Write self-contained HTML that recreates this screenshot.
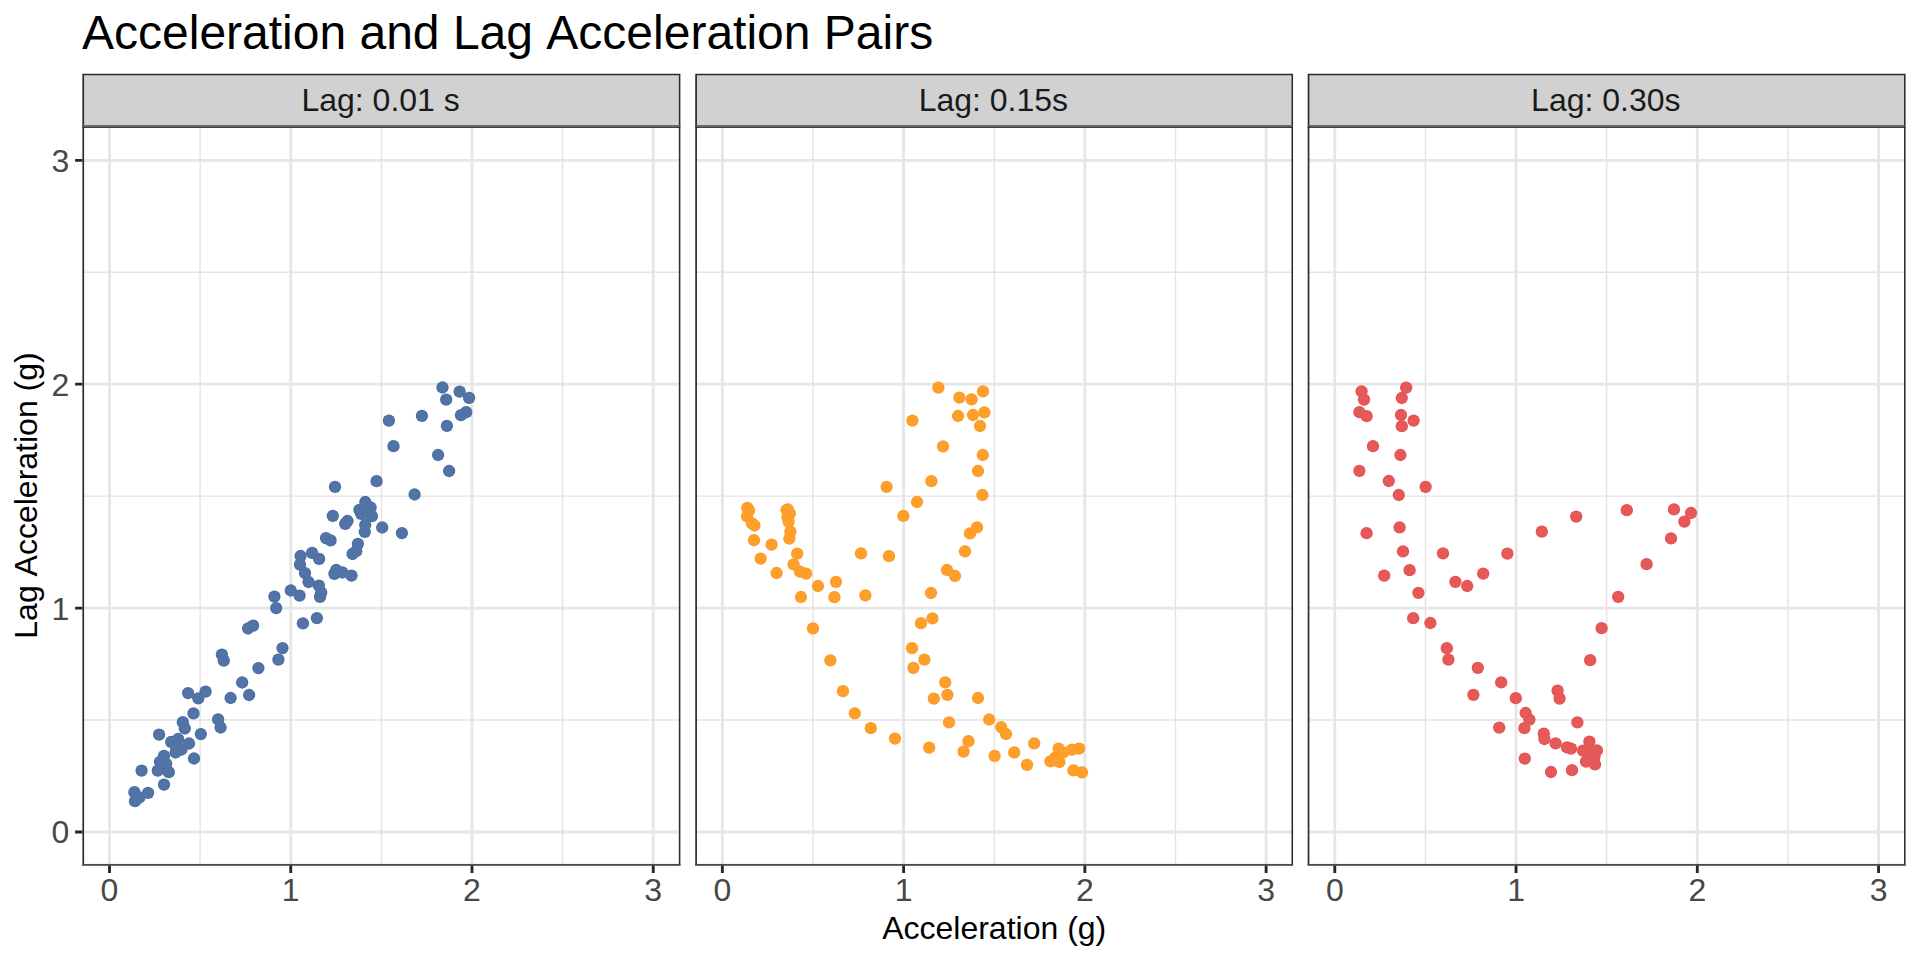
<!DOCTYPE html>
<html lang="en">
<head>
<meta charset="utf-8">
<title>Acceleration and Lag Acceleration Pairs</title>
<style>
html,body{margin:0;padding:0;background:#fff;}
body{width:1920px;height:960px;overflow:hidden;font-family:'Liberation Sans', Arial, Helvetica, sans-serif;}
svg{display:block;}
text{font-family:'Liberation Sans', Arial, Helvetica, sans-serif;font-kerning:none;}
.title{font-size:48px;fill:#000;}
.strip{font-size:32px;fill:#1a1a1a;text-anchor:middle;}
.atitle{font-size:32px;fill:#000;text-anchor:middle;}
.atext{font-size:32px;fill:#474747;}
.gmaj{stroke:#e6e6e6;stroke-width:2.84;fill:none;}
.gmin{stroke:#e4e4e4;stroke-width:1.42;fill:none;}
.tick{stroke:#262626;stroke-width:2.84;fill:none;}
</style>
</head>
<body>
<svg width="1920" height="960" viewBox="0 0 1920 960">
<rect x="0" y="0" width="1920" height="960" fill="#ffffff"/>
<text class="title" x="82" y="48.7">Acceleration and Lag Acceleration Pairs</text>

<defs><clipPath id="cp0"><rect x="82.40" y="126.55" width="597.85" height="739.05"/></clipPath><clipPath id="cs0"><rect x="82.40" y="73.70" width="597.85" height="52.85"/></clipPath></defs>
<g clip-path="url(#cs0)"><rect x="82.40" y="73.70" width="597.85" height="52.85" fill="#d1d1d1"/></g>
<path fill="#2c2c2c" d="M82.40 73.70H680.40V126.55h-1.55V75.25H84.10V126.55h-1.7z"/>
<text class="strip" x="380.62" y="111.3">Lag: 0.01 s</text>
<g clip-path="url(#cp0)">
<rect x="82.40" y="126.55" width="597.85" height="739.05" fill="#fff"/>
<path class="gmin" d="M200.12 126.55V865.60M82.40 720.05H680.25M381.38 126.55V865.60M82.40 496.15H680.25M562.62 126.55V865.60M82.40 272.25H680.25"/>
<path class="gmaj" d="M109.50 126.55V865.60M82.40 832.00H680.25M290.75 126.55V865.60M82.40 608.10H680.25M472.00 126.55V865.60M82.40 384.20H680.25M653.25 126.55V865.60M82.40 160.30H680.25"/>
<g fill="#4B6EA2">
<circle cx="249.1" cy="695.0" r="6.15"/>
<circle cx="230.6" cy="698.0" r="6.15"/>
<circle cx="205.6" cy="691.6" r="6.15"/>
<circle cx="188.1" cy="693.1" r="6.15"/>
<circle cx="198.3" cy="698.3" r="6.15"/>
<circle cx="193.5" cy="713.4" r="6.15"/>
<circle cx="218.1" cy="719.4" r="6.15"/>
<circle cx="220.6" cy="727.5" r="6.15"/>
<circle cx="182.8" cy="722.2" r="6.15"/>
<circle cx="184.8" cy="728.5" r="6.15"/>
<circle cx="200.8" cy="734.1" r="6.15"/>
<circle cx="159.1" cy="734.6" r="6.15"/>
<circle cx="178.1" cy="739.0" r="6.15"/>
<circle cx="171.2" cy="741.9" r="6.15"/>
<circle cx="189.0" cy="743.5" r="6.15"/>
<circle cx="181.5" cy="749.5" r="6.15"/>
<circle cx="175.6" cy="752.5" r="6.15"/>
<circle cx="175.0" cy="745.0" r="6.15"/>
<circle cx="194.0" cy="758.5" r="6.15"/>
<circle cx="164.0" cy="755.9" r="6.15"/>
<circle cx="160.0" cy="761.9" r="6.15"/>
<circle cx="166.2" cy="763.8" r="6.15"/>
<circle cx="157.8" cy="770.6" r="6.15"/>
<circle cx="168.8" cy="772.2" r="6.15"/>
<circle cx="141.6" cy="770.6" r="6.15"/>
<circle cx="164.0" cy="784.6" r="6.15"/>
<circle cx="134.4" cy="792.2" r="6.15"/>
<circle cx="148.1" cy="792.8" r="6.15"/>
<circle cx="135.0" cy="801.2" r="6.15"/>
<circle cx="139.4" cy="797.5" r="6.15"/>
<circle cx="242.2" cy="682.5" r="6.15"/>
<circle cx="258.4" cy="668.1" r="6.15"/>
<circle cx="278.4" cy="659.6" r="6.15"/>
<circle cx="282.5" cy="648.1" r="6.15"/>
<circle cx="221.9" cy="654.6" r="6.15"/>
<circle cx="223.8" cy="660.6" r="6.15"/>
<circle cx="248.1" cy="628.5" r="6.15"/>
<circle cx="253.1" cy="625.6" r="6.15"/>
<circle cx="276.2" cy="608.1" r="6.15"/>
<circle cx="274.4" cy="596.6" r="6.15"/>
<circle cx="302.9" cy="623.4" r="6.15"/>
<circle cx="316.9" cy="618.1" r="6.15"/>
<circle cx="290.8" cy="590.5" r="6.15"/>
<circle cx="299.6" cy="595.6" r="6.15"/>
<circle cx="320.0" cy="596.9" r="6.15"/>
<circle cx="321.2" cy="592.5" r="6.15"/>
<circle cx="318.9" cy="585.6" r="6.15"/>
<circle cx="308.5" cy="582.0" r="6.15"/>
<circle cx="365.3" cy="502.0" r="6.15"/>
<circle cx="370.6" cy="507.5" r="6.15"/>
<circle cx="359.4" cy="509.8" r="6.15"/>
<circle cx="361.2" cy="513.8" r="6.15"/>
<circle cx="366.2" cy="511.9" r="6.15"/>
<circle cx="371.9" cy="516.2" r="6.15"/>
<circle cx="332.8" cy="515.9" r="6.15"/>
<circle cx="347.5" cy="521.0" r="6.15"/>
<circle cx="345.2" cy="523.8" r="6.15"/>
<circle cx="365.2" cy="525.0" r="6.15"/>
<circle cx="364.8" cy="531.9" r="6.15"/>
<circle cx="382.2" cy="527.5" r="6.15"/>
<circle cx="401.9" cy="533.1" r="6.15"/>
<circle cx="326.0" cy="538.1" r="6.15"/>
<circle cx="330.6" cy="540.4" r="6.15"/>
<circle cx="357.9" cy="543.8" r="6.15"/>
<circle cx="356.2" cy="551.2" r="6.15"/>
<circle cx="352.5" cy="554.0" r="6.15"/>
<circle cx="312.1" cy="552.9" r="6.15"/>
<circle cx="300.6" cy="556.0" r="6.15"/>
<circle cx="319.1" cy="558.8" r="6.15"/>
<circle cx="300.0" cy="564.6" r="6.15"/>
<circle cx="305.0" cy="573.1" r="6.15"/>
<circle cx="336.2" cy="570.0" r="6.15"/>
<circle cx="334.4" cy="573.8" r="6.15"/>
<circle cx="342.5" cy="572.5" r="6.15"/>
<circle cx="351.5" cy="575.6" r="6.15"/>
<circle cx="442.5" cy="387.5" r="6.15"/>
<circle cx="459.6" cy="391.6" r="6.15"/>
<circle cx="469.1" cy="397.8" r="6.15"/>
<circle cx="446.2" cy="399.6" r="6.15"/>
<circle cx="466.2" cy="412.2" r="6.15"/>
<circle cx="461.0" cy="415.2" r="6.15"/>
<circle cx="421.9" cy="415.9" r="6.15"/>
<circle cx="388.9" cy="420.6" r="6.15"/>
<circle cx="446.9" cy="425.9" r="6.15"/>
<circle cx="393.5" cy="446.2" r="6.15"/>
<circle cx="438.1" cy="455.0" r="6.15"/>
<circle cx="449.1" cy="471.0" r="6.15"/>
<circle cx="376.6" cy="481.2" r="6.15"/>
<circle cx="335.0" cy="486.9" r="6.15"/>
<circle cx="414.6" cy="494.5" r="6.15"/>
</g>
<g fill="#5273A5">
<circle cx="249.1" cy="695.0" r="5.2"/>
<circle cx="230.6" cy="698.0" r="5.2"/>
<circle cx="205.6" cy="691.6" r="5.2"/>
<circle cx="188.1" cy="693.1" r="5.2"/>
<circle cx="198.3" cy="698.3" r="5.2"/>
<circle cx="193.5" cy="713.4" r="5.2"/>
<circle cx="218.1" cy="719.4" r="5.2"/>
<circle cx="220.6" cy="727.5" r="5.2"/>
<circle cx="182.8" cy="722.2" r="5.2"/>
<circle cx="184.8" cy="728.5" r="5.2"/>
<circle cx="200.8" cy="734.1" r="5.2"/>
<circle cx="159.1" cy="734.6" r="5.2"/>
<circle cx="178.1" cy="739.0" r="5.2"/>
<circle cx="171.2" cy="741.9" r="5.2"/>
<circle cx="189.0" cy="743.5" r="5.2"/>
<circle cx="181.5" cy="749.5" r="5.2"/>
<circle cx="175.6" cy="752.5" r="5.2"/>
<circle cx="175.0" cy="745.0" r="5.2"/>
<circle cx="194.0" cy="758.5" r="5.2"/>
<circle cx="164.0" cy="755.9" r="5.2"/>
<circle cx="160.0" cy="761.9" r="5.2"/>
<circle cx="166.2" cy="763.8" r="5.2"/>
<circle cx="157.8" cy="770.6" r="5.2"/>
<circle cx="168.8" cy="772.2" r="5.2"/>
<circle cx="141.6" cy="770.6" r="5.2"/>
<circle cx="164.0" cy="784.6" r="5.2"/>
<circle cx="134.4" cy="792.2" r="5.2"/>
<circle cx="148.1" cy="792.8" r="5.2"/>
<circle cx="135.0" cy="801.2" r="5.2"/>
<circle cx="139.4" cy="797.5" r="5.2"/>
<circle cx="242.2" cy="682.5" r="5.2"/>
<circle cx="258.4" cy="668.1" r="5.2"/>
<circle cx="278.4" cy="659.6" r="5.2"/>
<circle cx="282.5" cy="648.1" r="5.2"/>
<circle cx="221.9" cy="654.6" r="5.2"/>
<circle cx="223.8" cy="660.6" r="5.2"/>
<circle cx="248.1" cy="628.5" r="5.2"/>
<circle cx="253.1" cy="625.6" r="5.2"/>
<circle cx="276.2" cy="608.1" r="5.2"/>
<circle cx="274.4" cy="596.6" r="5.2"/>
<circle cx="302.9" cy="623.4" r="5.2"/>
<circle cx="316.9" cy="618.1" r="5.2"/>
<circle cx="290.8" cy="590.5" r="5.2"/>
<circle cx="299.6" cy="595.6" r="5.2"/>
<circle cx="320.0" cy="596.9" r="5.2"/>
<circle cx="321.2" cy="592.5" r="5.2"/>
<circle cx="318.9" cy="585.6" r="5.2"/>
<circle cx="308.5" cy="582.0" r="5.2"/>
<circle cx="365.3" cy="502.0" r="5.2"/>
<circle cx="370.6" cy="507.5" r="5.2"/>
<circle cx="359.4" cy="509.8" r="5.2"/>
<circle cx="361.2" cy="513.8" r="5.2"/>
<circle cx="366.2" cy="511.9" r="5.2"/>
<circle cx="371.9" cy="516.2" r="5.2"/>
<circle cx="332.8" cy="515.9" r="5.2"/>
<circle cx="347.5" cy="521.0" r="5.2"/>
<circle cx="345.2" cy="523.8" r="5.2"/>
<circle cx="365.2" cy="525.0" r="5.2"/>
<circle cx="364.8" cy="531.9" r="5.2"/>
<circle cx="382.2" cy="527.5" r="5.2"/>
<circle cx="401.9" cy="533.1" r="5.2"/>
<circle cx="326.0" cy="538.1" r="5.2"/>
<circle cx="330.6" cy="540.4" r="5.2"/>
<circle cx="357.9" cy="543.8" r="5.2"/>
<circle cx="356.2" cy="551.2" r="5.2"/>
<circle cx="352.5" cy="554.0" r="5.2"/>
<circle cx="312.1" cy="552.9" r="5.2"/>
<circle cx="300.6" cy="556.0" r="5.2"/>
<circle cx="319.1" cy="558.8" r="5.2"/>
<circle cx="300.0" cy="564.6" r="5.2"/>
<circle cx="305.0" cy="573.1" r="5.2"/>
<circle cx="336.2" cy="570.0" r="5.2"/>
<circle cx="334.4" cy="573.8" r="5.2"/>
<circle cx="342.5" cy="572.5" r="5.2"/>
<circle cx="351.5" cy="575.6" r="5.2"/>
<circle cx="442.5" cy="387.5" r="5.2"/>
<circle cx="459.6" cy="391.6" r="5.2"/>
<circle cx="469.1" cy="397.8" r="5.2"/>
<circle cx="446.2" cy="399.6" r="5.2"/>
<circle cx="466.2" cy="412.2" r="5.2"/>
<circle cx="461.0" cy="415.2" r="5.2"/>
<circle cx="421.9" cy="415.9" r="5.2"/>
<circle cx="388.9" cy="420.6" r="5.2"/>
<circle cx="446.9" cy="425.9" r="5.2"/>
<circle cx="393.5" cy="446.2" r="5.2"/>
<circle cx="438.1" cy="455.0" r="5.2"/>
<circle cx="449.1" cy="471.0" r="5.2"/>
<circle cx="376.6" cy="481.2" r="5.2"/>
<circle cx="335.0" cy="486.9" r="5.2"/>
<circle cx="414.6" cy="494.5" r="5.2"/>
</g>
</g>
<path fill="#2c2c2c" d="M82.40 126.55h1.7V865.60h-1.7zM680.40 126.55h-1.55V865.60h1.55z"/>
<rect x="82.40" y="863.95" width="598.00" height="1.85" fill="#4b4b4b"/>
<rect x="82.40" y="125.15" width="597.85" height="1.6" fill="#595959"/><rect x="82.40" y="126.7" width="597.85" height="1.15" fill="#222"/>
<text class="atext" text-anchor="middle" x="109.50" y="901.3">0</text>
<text class="atext" text-anchor="middle" x="290.75" y="901.3">1</text>
<text class="atext" text-anchor="middle" x="472.00" y="901.3">2</text>
<text class="atext" text-anchor="middle" x="653.25" y="901.3">3</text>
<path class="tick" d="M109.50 865.60v7.3M290.75 865.60v7.3M472.00 865.60v7.3M653.25 865.60v7.3"/>
<defs><clipPath id="cp1"><rect x="695.25" y="126.55" width="597.65" height="739.05"/></clipPath><clipPath id="cs1"><rect x="695.25" y="73.70" width="597.65" height="52.85"/></clipPath></defs>
<g clip-path="url(#cs1)"><rect x="695.25" y="73.70" width="597.65" height="52.85" fill="#d1d1d1"/></g>
<path fill="#2c2c2c" d="M695.25 73.70H1293.05V126.55h-1.55V75.25H696.95V126.55h-1.7z"/>
<text class="strip" x="993.38" y="111.3">Lag: 0.15s</text>
<g clip-path="url(#cp1)">
<rect x="695.25" y="126.55" width="597.65" height="739.05" fill="#fff"/>
<path class="gmin" d="M812.98 126.55V865.60M695.25 720.05H1292.90M994.23 126.55V865.60M695.25 496.15H1292.90M1175.47 126.55V865.60M695.25 272.25H1292.90"/>
<path class="gmaj" d="M722.35 126.55V865.60M695.25 832.00H1292.90M903.60 126.55V865.60M695.25 608.10H1292.90M1084.85 126.55V865.60M695.25 384.20H1292.90M1266.10 126.55V865.60M695.25 160.30H1292.90"/>
<g fill="#FD9B26">
<circle cx="938.4" cy="387.6" r="6.15"/>
<circle cx="983.0" cy="391.4" r="6.15"/>
<circle cx="959.4" cy="397.6" r="6.15"/>
<circle cx="971.6" cy="399.4" r="6.15"/>
<circle cx="984.4" cy="412.4" r="6.15"/>
<circle cx="973.0" cy="415.0" r="6.15"/>
<circle cx="958.0" cy="416.0" r="6.15"/>
<circle cx="912.4" cy="420.6" r="6.15"/>
<circle cx="980.0" cy="426.0" r="6.15"/>
<circle cx="943.0" cy="446.4" r="6.15"/>
<circle cx="982.8" cy="455.0" r="6.15"/>
<circle cx="978.0" cy="471.0" r="6.15"/>
<circle cx="931.4" cy="481.2" r="6.15"/>
<circle cx="886.6" cy="486.8" r="6.15"/>
<circle cx="982.4" cy="495.0" r="6.15"/>
<circle cx="917.0" cy="502.0" r="6.15"/>
<circle cx="903.4" cy="515.8" r="6.15"/>
<circle cx="977.0" cy="527.4" r="6.15"/>
<circle cx="970.0" cy="533.4" r="6.15"/>
<circle cx="965.0" cy="551.4" r="6.15"/>
<circle cx="889.0" cy="556.2" r="6.15"/>
<circle cx="861.0" cy="553.4" r="6.15"/>
<circle cx="747.3" cy="507.9" r="6.15"/>
<circle cx="749.0" cy="510.7" r="6.15"/>
<circle cx="747.1" cy="516.4" r="6.15"/>
<circle cx="752.0" cy="523.4" r="6.15"/>
<circle cx="754.4" cy="525.4" r="6.15"/>
<circle cx="754.0" cy="540.2" r="6.15"/>
<circle cx="771.6" cy="544.6" r="6.15"/>
<circle cx="760.6" cy="558.7" r="6.15"/>
<circle cx="787.9" cy="509.5" r="6.15"/>
<circle cx="786.5" cy="510.0" r="6.15"/>
<circle cx="789.8" cy="513.4" r="6.15"/>
<circle cx="787.4" cy="517.0" r="6.15"/>
<circle cx="788.6" cy="521.6" r="6.15"/>
<circle cx="790.4" cy="531.6" r="6.15"/>
<circle cx="789.4" cy="538.6" r="6.15"/>
<circle cx="797.2" cy="553.6" r="6.15"/>
<circle cx="793.6" cy="564.4" r="6.15"/>
<circle cx="800.0" cy="571.6" r="6.15"/>
<circle cx="806.0" cy="573.6" r="6.15"/>
<circle cx="776.6" cy="573.0" r="6.15"/>
<circle cx="947.0" cy="570.0" r="6.15"/>
<circle cx="955.0" cy="576.0" r="6.15"/>
<circle cx="836.0" cy="581.8" r="6.15"/>
<circle cx="818.0" cy="586.0" r="6.15"/>
<circle cx="931.0" cy="593.0" r="6.15"/>
<circle cx="865.4" cy="595.4" r="6.15"/>
<circle cx="834.4" cy="597.2" r="6.15"/>
<circle cx="801.0" cy="597.0" r="6.15"/>
<circle cx="932.4" cy="618.4" r="6.15"/>
<circle cx="921.0" cy="623.2" r="6.15"/>
<circle cx="813.0" cy="628.4" r="6.15"/>
<circle cx="912.0" cy="648.2" r="6.15"/>
<circle cx="924.4" cy="659.6" r="6.15"/>
<circle cx="913.4" cy="667.8" r="6.15"/>
<circle cx="830.4" cy="660.4" r="6.15"/>
<circle cx="945.2" cy="682.4" r="6.15"/>
<circle cx="843.0" cy="691.2" r="6.15"/>
<circle cx="947.4" cy="694.8" r="6.15"/>
<circle cx="933.8" cy="698.6" r="6.15"/>
<circle cx="978.0" cy="698.0" r="6.15"/>
<circle cx="854.8" cy="713.4" r="6.15"/>
<circle cx="949.0" cy="722.4" r="6.15"/>
<circle cx="989.2" cy="719.5" r="6.15"/>
<circle cx="1001.2" cy="727.1" r="6.15"/>
<circle cx="1006.0" cy="734.0" r="6.15"/>
<circle cx="870.8" cy="728.2" r="6.15"/>
<circle cx="895.0" cy="738.6" r="6.15"/>
<circle cx="968.5" cy="741.2" r="6.15"/>
<circle cx="929.2" cy="747.6" r="6.15"/>
<circle cx="963.6" cy="751.6" r="6.15"/>
<circle cx="994.6" cy="755.8" r="6.15"/>
<circle cx="1014.2" cy="752.4" r="6.15"/>
<circle cx="1034.2" cy="743.4" r="6.15"/>
<circle cx="1027.0" cy="764.8" r="6.15"/>
<circle cx="1058.6" cy="748.6" r="6.15"/>
<circle cx="1063.3" cy="752.4" r="6.15"/>
<circle cx="1072.0" cy="749.6" r="6.15"/>
<circle cx="1079.0" cy="748.6" r="6.15"/>
<circle cx="1050.4" cy="761.4" r="6.15"/>
<circle cx="1055.3" cy="757.6" r="6.15"/>
<circle cx="1059.4" cy="762.0" r="6.15"/>
<circle cx="1073.4" cy="770.4" r="6.15"/>
<circle cx="1082.0" cy="772.4" r="6.15"/>
</g>
<g fill="#FE9F2C">
<circle cx="938.4" cy="387.6" r="5.2"/>
<circle cx="983.0" cy="391.4" r="5.2"/>
<circle cx="959.4" cy="397.6" r="5.2"/>
<circle cx="971.6" cy="399.4" r="5.2"/>
<circle cx="984.4" cy="412.4" r="5.2"/>
<circle cx="973.0" cy="415.0" r="5.2"/>
<circle cx="958.0" cy="416.0" r="5.2"/>
<circle cx="912.4" cy="420.6" r="5.2"/>
<circle cx="980.0" cy="426.0" r="5.2"/>
<circle cx="943.0" cy="446.4" r="5.2"/>
<circle cx="982.8" cy="455.0" r="5.2"/>
<circle cx="978.0" cy="471.0" r="5.2"/>
<circle cx="931.4" cy="481.2" r="5.2"/>
<circle cx="886.6" cy="486.8" r="5.2"/>
<circle cx="982.4" cy="495.0" r="5.2"/>
<circle cx="917.0" cy="502.0" r="5.2"/>
<circle cx="903.4" cy="515.8" r="5.2"/>
<circle cx="977.0" cy="527.4" r="5.2"/>
<circle cx="970.0" cy="533.4" r="5.2"/>
<circle cx="965.0" cy="551.4" r="5.2"/>
<circle cx="889.0" cy="556.2" r="5.2"/>
<circle cx="861.0" cy="553.4" r="5.2"/>
<circle cx="747.3" cy="507.9" r="5.2"/>
<circle cx="749.0" cy="510.7" r="5.2"/>
<circle cx="747.1" cy="516.4" r="5.2"/>
<circle cx="752.0" cy="523.4" r="5.2"/>
<circle cx="754.4" cy="525.4" r="5.2"/>
<circle cx="754.0" cy="540.2" r="5.2"/>
<circle cx="771.6" cy="544.6" r="5.2"/>
<circle cx="760.6" cy="558.7" r="5.2"/>
<circle cx="787.9" cy="509.5" r="5.2"/>
<circle cx="786.5" cy="510.0" r="5.2"/>
<circle cx="789.8" cy="513.4" r="5.2"/>
<circle cx="787.4" cy="517.0" r="5.2"/>
<circle cx="788.6" cy="521.6" r="5.2"/>
<circle cx="790.4" cy="531.6" r="5.2"/>
<circle cx="789.4" cy="538.6" r="5.2"/>
<circle cx="797.2" cy="553.6" r="5.2"/>
<circle cx="793.6" cy="564.4" r="5.2"/>
<circle cx="800.0" cy="571.6" r="5.2"/>
<circle cx="806.0" cy="573.6" r="5.2"/>
<circle cx="776.6" cy="573.0" r="5.2"/>
<circle cx="947.0" cy="570.0" r="5.2"/>
<circle cx="955.0" cy="576.0" r="5.2"/>
<circle cx="836.0" cy="581.8" r="5.2"/>
<circle cx="818.0" cy="586.0" r="5.2"/>
<circle cx="931.0" cy="593.0" r="5.2"/>
<circle cx="865.4" cy="595.4" r="5.2"/>
<circle cx="834.4" cy="597.2" r="5.2"/>
<circle cx="801.0" cy="597.0" r="5.2"/>
<circle cx="932.4" cy="618.4" r="5.2"/>
<circle cx="921.0" cy="623.2" r="5.2"/>
<circle cx="813.0" cy="628.4" r="5.2"/>
<circle cx="912.0" cy="648.2" r="5.2"/>
<circle cx="924.4" cy="659.6" r="5.2"/>
<circle cx="913.4" cy="667.8" r="5.2"/>
<circle cx="830.4" cy="660.4" r="5.2"/>
<circle cx="945.2" cy="682.4" r="5.2"/>
<circle cx="843.0" cy="691.2" r="5.2"/>
<circle cx="947.4" cy="694.8" r="5.2"/>
<circle cx="933.8" cy="698.6" r="5.2"/>
<circle cx="978.0" cy="698.0" r="5.2"/>
<circle cx="854.8" cy="713.4" r="5.2"/>
<circle cx="949.0" cy="722.4" r="5.2"/>
<circle cx="989.2" cy="719.5" r="5.2"/>
<circle cx="1001.2" cy="727.1" r="5.2"/>
<circle cx="1006.0" cy="734.0" r="5.2"/>
<circle cx="870.8" cy="728.2" r="5.2"/>
<circle cx="895.0" cy="738.6" r="5.2"/>
<circle cx="968.5" cy="741.2" r="5.2"/>
<circle cx="929.2" cy="747.6" r="5.2"/>
<circle cx="963.6" cy="751.6" r="5.2"/>
<circle cx="994.6" cy="755.8" r="5.2"/>
<circle cx="1014.2" cy="752.4" r="5.2"/>
<circle cx="1034.2" cy="743.4" r="5.2"/>
<circle cx="1027.0" cy="764.8" r="5.2"/>
<circle cx="1058.6" cy="748.6" r="5.2"/>
<circle cx="1063.3" cy="752.4" r="5.2"/>
<circle cx="1072.0" cy="749.6" r="5.2"/>
<circle cx="1079.0" cy="748.6" r="5.2"/>
<circle cx="1050.4" cy="761.4" r="5.2"/>
<circle cx="1055.3" cy="757.6" r="5.2"/>
<circle cx="1059.4" cy="762.0" r="5.2"/>
<circle cx="1073.4" cy="770.4" r="5.2"/>
<circle cx="1082.0" cy="772.4" r="5.2"/>
</g>
</g>
<path fill="#2c2c2c" d="M695.25 126.55h1.7V865.60h-1.7zM1293.05 126.55h-1.55V865.60h1.55z"/>
<rect x="695.25" y="863.95" width="597.80" height="1.85" fill="#4b4b4b"/>
<rect x="695.25" y="125.15" width="597.65" height="1.6" fill="#595959"/><rect x="695.25" y="126.7" width="597.65" height="1.15" fill="#222"/>
<text class="atext" text-anchor="middle" x="722.35" y="901.3">0</text>
<text class="atext" text-anchor="middle" x="903.60" y="901.3">1</text>
<text class="atext" text-anchor="middle" x="1084.85" y="901.3">2</text>
<text class="atext" text-anchor="middle" x="1266.10" y="901.3">3</text>
<path class="tick" d="M722.35 865.60v7.3M903.60 865.60v7.3M1084.85 865.60v7.3M1266.10 865.60v7.3"/>
<defs><clipPath id="cp2"><rect x="1307.70" y="126.55" width="597.70" height="739.05"/></clipPath><clipPath id="cs2"><rect x="1307.70" y="73.70" width="597.70" height="52.85"/></clipPath></defs>
<g clip-path="url(#cs2)"><rect x="1307.70" y="73.70" width="597.70" height="52.85" fill="#d1d1d1"/></g>
<path fill="#2c2c2c" d="M1307.70 73.70H1905.55V126.55h-1.55V75.25H1309.40V126.55h-1.7z"/>
<text class="strip" x="1605.85" y="111.3">Lag: 0.30s</text>
<g clip-path="url(#cp2)">
<rect x="1307.70" y="126.55" width="597.70" height="739.05" fill="#fff"/>
<path class="gmin" d="M1425.42 126.55V865.60M1307.70 720.05H1905.40M1606.67 126.55V865.60M1307.70 496.15H1905.40M1787.92 126.55V865.60M1307.70 272.25H1905.40"/>
<path class="gmaj" d="M1334.80 126.55V865.60M1307.70 832.00H1905.40M1516.05 126.55V865.60M1307.70 608.10H1905.40M1697.30 126.55V865.60M1307.70 384.20H1905.40M1878.55 126.55V865.60M1307.70 160.30H1905.40"/>
<g fill="#E55253">
<circle cx="1406.2" cy="387.6" r="6.15"/>
<circle cx="1361.6" cy="391.4" r="6.15"/>
<circle cx="1364.0" cy="399.6" r="6.15"/>
<circle cx="1401.8" cy="398.0" r="6.15"/>
<circle cx="1359.4" cy="412.2" r="6.15"/>
<circle cx="1366.6" cy="416.2" r="6.15"/>
<circle cx="1401.0" cy="415.0" r="6.15"/>
<circle cx="1413.6" cy="420.6" r="6.15"/>
<circle cx="1401.8" cy="426.2" r="6.15"/>
<circle cx="1373.0" cy="446.2" r="6.15"/>
<circle cx="1400.4" cy="455.0" r="6.15"/>
<circle cx="1359.4" cy="470.8" r="6.15"/>
<circle cx="1388.8" cy="481.0" r="6.15"/>
<circle cx="1425.6" cy="486.8" r="6.15"/>
<circle cx="1398.8" cy="495.0" r="6.15"/>
<circle cx="1626.8" cy="510.2" r="6.15"/>
<circle cx="1674.0" cy="509.4" r="6.15"/>
<circle cx="1691.0" cy="513.0" r="6.15"/>
<circle cx="1684.4" cy="521.6" r="6.15"/>
<circle cx="1576.2" cy="516.6" r="6.15"/>
<circle cx="1541.8" cy="531.6" r="6.15"/>
<circle cx="1671.0" cy="538.4" r="6.15"/>
<circle cx="1399.6" cy="527.4" r="6.15"/>
<circle cx="1366.6" cy="533.2" r="6.15"/>
<circle cx="1403.0" cy="551.4" r="6.15"/>
<circle cx="1443.0" cy="553.3" r="6.15"/>
<circle cx="1507.4" cy="553.6" r="6.15"/>
<circle cx="1646.6" cy="564.2" r="6.15"/>
<circle cx="1409.6" cy="570.2" r="6.15"/>
<circle cx="1384.2" cy="575.6" r="6.15"/>
<circle cx="1483.2" cy="573.6" r="6.15"/>
<circle cx="1455.4" cy="581.8" r="6.15"/>
<circle cx="1467.2" cy="586.0" r="6.15"/>
<circle cx="1418.4" cy="592.8" r="6.15"/>
<circle cx="1618.2" cy="596.8" r="6.15"/>
<circle cx="1413.2" cy="618.2" r="6.15"/>
<circle cx="1430.4" cy="623.0" r="6.15"/>
<circle cx="1601.6" cy="628.2" r="6.15"/>
<circle cx="1446.8" cy="648.2" r="6.15"/>
<circle cx="1448.4" cy="659.6" r="6.15"/>
<circle cx="1590.2" cy="660.2" r="6.15"/>
<circle cx="1477.8" cy="667.8" r="6.15"/>
<circle cx="1501.2" cy="682.4" r="6.15"/>
<circle cx="1473.4" cy="694.8" r="6.15"/>
<circle cx="1515.8" cy="698.2" r="6.15"/>
<circle cx="1557.6" cy="690.6" r="6.15"/>
<circle cx="1559.6" cy="698.6" r="6.15"/>
<circle cx="1525.6" cy="713.0" r="6.15"/>
<circle cx="1529.4" cy="719.6" r="6.15"/>
<circle cx="1577.4" cy="722.4" r="6.15"/>
<circle cx="1499.2" cy="727.6" r="6.15"/>
<circle cx="1524.4" cy="728.2" r="6.15"/>
<circle cx="1543.8" cy="733.7" r="6.15"/>
<circle cx="1544.4" cy="739.0" r="6.15"/>
<circle cx="1555.6" cy="743.4" r="6.15"/>
<circle cx="1567.0" cy="747.4" r="6.15"/>
<circle cx="1571.0" cy="748.6" r="6.15"/>
<circle cx="1589.4" cy="741.6" r="6.15"/>
<circle cx="1583.0" cy="750.6" r="6.15"/>
<circle cx="1589.0" cy="749.6" r="6.15"/>
<circle cx="1597.0" cy="750.3" r="6.15"/>
<circle cx="1594.5" cy="756.3" r="6.15"/>
<circle cx="1586.0" cy="761.6" r="6.15"/>
<circle cx="1595.0" cy="764.4" r="6.15"/>
<circle cx="1591.0" cy="758.0" r="6.15"/>
<circle cx="1524.8" cy="758.6" r="6.15"/>
<circle cx="1551.0" cy="772.0" r="6.15"/>
<circle cx="1572.0" cy="770.2" r="6.15"/>
</g>
<g fill="#E65959">
<circle cx="1406.2" cy="387.6" r="5.2"/>
<circle cx="1361.6" cy="391.4" r="5.2"/>
<circle cx="1364.0" cy="399.6" r="5.2"/>
<circle cx="1401.8" cy="398.0" r="5.2"/>
<circle cx="1359.4" cy="412.2" r="5.2"/>
<circle cx="1366.6" cy="416.2" r="5.2"/>
<circle cx="1401.0" cy="415.0" r="5.2"/>
<circle cx="1413.6" cy="420.6" r="5.2"/>
<circle cx="1401.8" cy="426.2" r="5.2"/>
<circle cx="1373.0" cy="446.2" r="5.2"/>
<circle cx="1400.4" cy="455.0" r="5.2"/>
<circle cx="1359.4" cy="470.8" r="5.2"/>
<circle cx="1388.8" cy="481.0" r="5.2"/>
<circle cx="1425.6" cy="486.8" r="5.2"/>
<circle cx="1398.8" cy="495.0" r="5.2"/>
<circle cx="1626.8" cy="510.2" r="5.2"/>
<circle cx="1674.0" cy="509.4" r="5.2"/>
<circle cx="1691.0" cy="513.0" r="5.2"/>
<circle cx="1684.4" cy="521.6" r="5.2"/>
<circle cx="1576.2" cy="516.6" r="5.2"/>
<circle cx="1541.8" cy="531.6" r="5.2"/>
<circle cx="1671.0" cy="538.4" r="5.2"/>
<circle cx="1399.6" cy="527.4" r="5.2"/>
<circle cx="1366.6" cy="533.2" r="5.2"/>
<circle cx="1403.0" cy="551.4" r="5.2"/>
<circle cx="1443.0" cy="553.3" r="5.2"/>
<circle cx="1507.4" cy="553.6" r="5.2"/>
<circle cx="1646.6" cy="564.2" r="5.2"/>
<circle cx="1409.6" cy="570.2" r="5.2"/>
<circle cx="1384.2" cy="575.6" r="5.2"/>
<circle cx="1483.2" cy="573.6" r="5.2"/>
<circle cx="1455.4" cy="581.8" r="5.2"/>
<circle cx="1467.2" cy="586.0" r="5.2"/>
<circle cx="1418.4" cy="592.8" r="5.2"/>
<circle cx="1618.2" cy="596.8" r="5.2"/>
<circle cx="1413.2" cy="618.2" r="5.2"/>
<circle cx="1430.4" cy="623.0" r="5.2"/>
<circle cx="1601.6" cy="628.2" r="5.2"/>
<circle cx="1446.8" cy="648.2" r="5.2"/>
<circle cx="1448.4" cy="659.6" r="5.2"/>
<circle cx="1590.2" cy="660.2" r="5.2"/>
<circle cx="1477.8" cy="667.8" r="5.2"/>
<circle cx="1501.2" cy="682.4" r="5.2"/>
<circle cx="1473.4" cy="694.8" r="5.2"/>
<circle cx="1515.8" cy="698.2" r="5.2"/>
<circle cx="1557.6" cy="690.6" r="5.2"/>
<circle cx="1559.6" cy="698.6" r="5.2"/>
<circle cx="1525.6" cy="713.0" r="5.2"/>
<circle cx="1529.4" cy="719.6" r="5.2"/>
<circle cx="1577.4" cy="722.4" r="5.2"/>
<circle cx="1499.2" cy="727.6" r="5.2"/>
<circle cx="1524.4" cy="728.2" r="5.2"/>
<circle cx="1543.8" cy="733.7" r="5.2"/>
<circle cx="1544.4" cy="739.0" r="5.2"/>
<circle cx="1555.6" cy="743.4" r="5.2"/>
<circle cx="1567.0" cy="747.4" r="5.2"/>
<circle cx="1571.0" cy="748.6" r="5.2"/>
<circle cx="1589.4" cy="741.6" r="5.2"/>
<circle cx="1583.0" cy="750.6" r="5.2"/>
<circle cx="1589.0" cy="749.6" r="5.2"/>
<circle cx="1597.0" cy="750.3" r="5.2"/>
<circle cx="1594.5" cy="756.3" r="5.2"/>
<circle cx="1586.0" cy="761.6" r="5.2"/>
<circle cx="1595.0" cy="764.4" r="5.2"/>
<circle cx="1591.0" cy="758.0" r="5.2"/>
<circle cx="1524.8" cy="758.6" r="5.2"/>
<circle cx="1551.0" cy="772.0" r="5.2"/>
<circle cx="1572.0" cy="770.2" r="5.2"/>
</g>
</g>
<path fill="#2c2c2c" d="M1307.70 126.55h1.7V865.60h-1.7zM1905.55 126.55h-1.55V865.60h1.55z"/>
<rect x="1307.70" y="863.95" width="597.85" height="1.85" fill="#4b4b4b"/>
<rect x="1307.70" y="125.15" width="597.70" height="1.6" fill="#595959"/><rect x="1307.70" y="126.7" width="597.70" height="1.15" fill="#222"/>
<text class="atext" text-anchor="middle" x="1334.80" y="901.3">0</text>
<text class="atext" text-anchor="middle" x="1516.05" y="901.3">1</text>
<text class="atext" text-anchor="middle" x="1697.30" y="901.3">2</text>
<text class="atext" text-anchor="middle" x="1878.55" y="901.3">3</text>
<path class="tick" d="M1334.80 865.60v7.3M1516.05 865.60v7.3M1697.30 865.60v7.3M1878.55 865.60v7.3"/>
<text class="atext" text-anchor="end" x="69.4" y="843.40">0</text>
<text class="atext" text-anchor="end" x="69.4" y="619.50">1</text>
<text class="atext" text-anchor="end" x="69.4" y="395.60">2</text>
<text class="atext" text-anchor="end" x="69.4" y="171.70">3</text>
<path class="tick" d="M82.40 832.00h-7.3M82.40 608.10h-7.3M82.40 384.20h-7.3M82.40 160.30h-7.3"/>
<text class="atitle" x="994.2" y="938.9">Acceleration (g)</text>
<text class="atitle" transform="translate(37.3 495.5) rotate(-90)" x="0" y="0">Lag Acceleration (g)</text>
</svg>
</body>
</html>
